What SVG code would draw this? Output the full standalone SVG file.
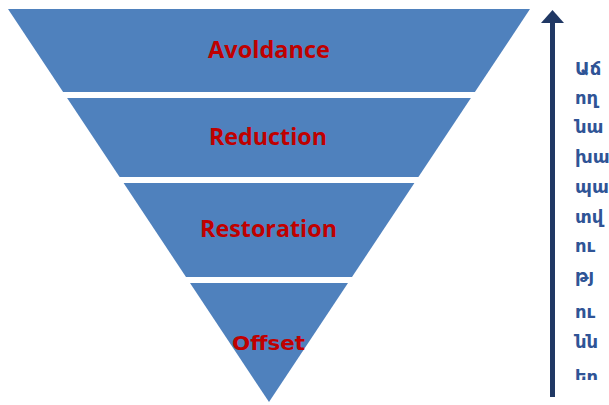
<svg xmlns="http://www.w3.org/2000/svg" width="609" height="405" viewBox="0 0 609 405">
<defs>
<style>
.band{fill:#4F81BD;}
.lbl{font-family:"Open Sans","Liberation Sans",sans-serif;font-weight:bold;font-size:23px;fill:#C00000;text-anchor:middle;}
.off{font-family:"DejaVu Sans","Liberation Sans",sans-serif;font-weight:bold;font-size:20px;fill:#C00000;text-anchor:middle;}
.arm{font-family:"DejaVu Sans","Noto Sans",sans-serif;font-weight:bold;font-size:18px;fill:#2F5496;}
</style>
<clipPath id="armclip"><rect x="560" y="0" width="49" height="380"/></clipPath>
</defs>
<rect width="609" height="405" fill="#FFFFFF"/>
<g id="avoidance">
<polygon class="band" points="8,9 530,9 474.9,92 63.1,92"/>
<text class="lbl" x="269" y="58" textLength="122" lengthAdjust="spacingAndGlyphs">Avoldance</text>
</g>
<g id="reduction">
<polygon class="band" points="67.1,98 470.9,98 418.4,177 119.6,177"/>
<text class="lbl" x="268" y="145" textLength="118" lengthAdjust="spacingAndGlyphs">Reduction</text>
</g>
<g id="restoration">
<polygon class="band" points="123.6,183 414.4,183 352,277 186,277"/>
<text class="lbl" x="268.5" y="237" textLength="137" lengthAdjust="spacingAndGlyphs">Restoration</text>
</g>
<g id="offset">
<polygon class="band" points="190,283 348,283 269,402"/>
<text class="off" x="268.5" y="350" textLength="73" lengthAdjust="spacingAndGlyphs">Offset</text>
</g>
<g id="connectors">
<line x1="552.5" y1="397" x2="552.5" y2="22" stroke="#203864" stroke-width="5"/>
<path d="M552.5 10 L564 23 L541 23 Z" fill="#203864"/>
</g>
<g id="armenian-label" clip-path="url(#armclip)">
<text class="arm" x="575" y="75">Աճ</text>
<text class="arm" x="575" y="104">ող</text>
<text class="arm" x="575" y="133">նա</text>
<text class="arm" x="575" y="163">խա</text>
<text class="arm" x="575" y="193">պա</text>
<text class="arm" x="575" y="223">տվ</text>
<text class="arm" x="575" y="252">ու</text>
<text class="arm" x="575" y="282">թյ</text>
<text class="arm" x="575" y="318">ու</text>
<text class="arm" x="575" y="348">նն</text>
<text class="arm" x="575" y="383">եր</text>
</g>
</svg>
